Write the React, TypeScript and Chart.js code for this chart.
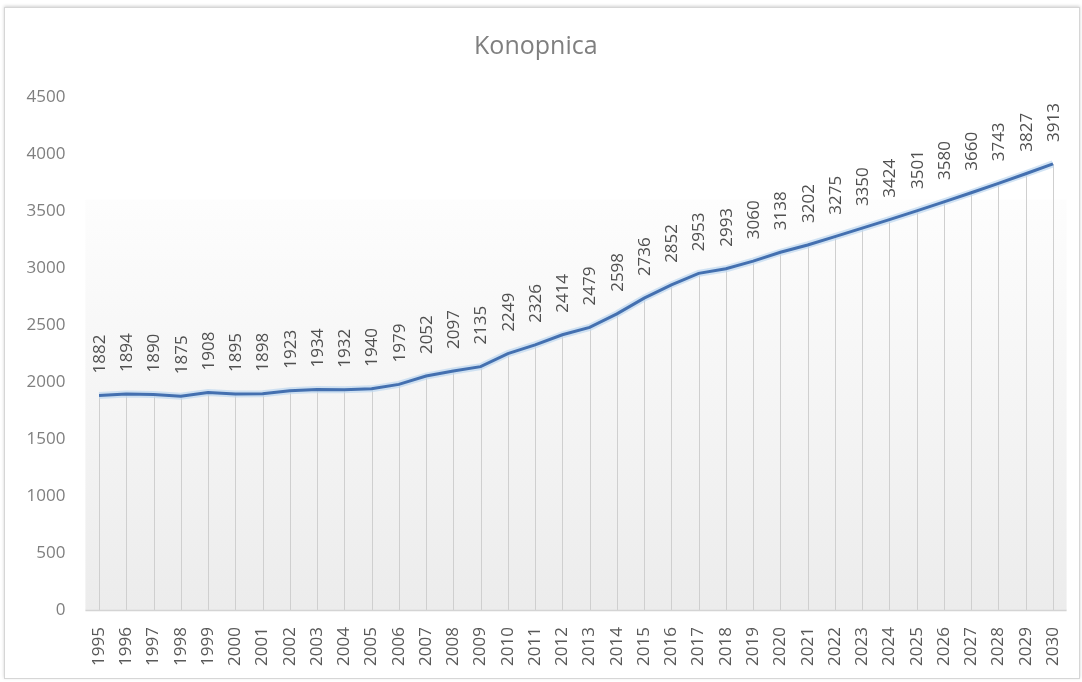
import React, { useEffect, useRef } from "react";
import { Chart, registerables } from "chart.js";

Chart.register(...registerables);

const years: string[] = [
  "1995", "1996", "1997", "1998", "1999", "2000", "2001", "2002", "2003",
  "2004", "2005", "2006", "2007", "2008", "2009", "2010", "2011", "2012",
  "2013", "2014", "2015", "2016", "2017", "2018", "2019", "2020", "2021",
  "2022", "2023", "2024", "2025", "2026", "2027", "2028", "2029", "2030",
];

const population: number[] = [
  1882, 1894, 1890, 1875, 1908, 1895, 1898, 1923, 1934, 1932, 1940, 1979,
  2052, 2097, 2135, 2249, 2326, 2414, 2479, 2598, 2736, 2852, 2953, 2993,
  3060, 3138, 3202, 3275, 3350, 3424, 3501, 3580, 3660, 3743, 3827, 3913,
];

const titleText = "Konopnica";
const yMin = 0;
const yMax = 4500;
const yStep = 500;

const W = 1074;
const H = 670;
const FONT = "'Open Sans', 'Liberation Sans', sans-serif";

const decorPlugin = {
  id: "decor",
  beforeDatasetsDraw(chart: any) {
    const { ctx, chartArea } = chart;
    const { left, right, top, bottom } = chartArea;
    ctx.save();
    const g = ctx.createLinearGradient(0, top, 0, bottom);
    g.addColorStop(0, "rgba(255,255,255,1)");
    g.addColorStop(0.2, "rgba(253,253,253,1)");
    g.addColorStop(1, "rgba(236,236,236,1)");
    ctx.fillStyle = g;
    ctx.fillRect(left, top + (bottom - top) * 0.2, right - left, (bottom - top) * 0.8);
    // drop lines
    const meta = chart.getDatasetMeta(0);
    ctx.strokeStyle = "#cfcfcf";
    ctx.lineWidth = 1;
    meta.data.forEach((pt: any) => {
      const x = Math.round(pt.x) + 0.5;
      ctx.beginPath();
      ctx.moveTo(x, pt.y);
      ctx.lineTo(x, bottom);
      ctx.stroke();
    });
    // axis line
    ctx.strokeStyle = "#d4d4d4";
    ctx.lineWidth = 1.5;
    ctx.beginPath();
    ctx.moveTo(left, bottom + 0.5);
    ctx.lineTo(right, bottom + 0.5);
    ctx.stroke();
    ctx.restore();
  },
  afterDatasetsDraw(chart: any) {
    const { ctx } = chart;
    const meta = chart.getDatasetMeta(0);
    const data = chart.data.datasets[0].data as number[];
    ctx.save();
    ctx.font = `17px ${FONT}`;
    ctx.fillStyle = "#505050";
    ctx.textAlign = "left";
    ctx.textBaseline = "middle";
    meta.data.forEach((pt: any, i: number) => {
      ctx.save();
      ctx.translate(pt.x, pt.y - 22);
      ctx.rotate(-Math.PI / 2);
      ctx.fillText(String(data[i]), 0, 1);
      ctx.restore();
    });
    ctx.restore();
  },
};

export default function App() {
  const ref = useRef<HTMLCanvasElement | null>(null);

  useEffect(() => {
    if (!ref.current) return;
    const chart = new Chart(ref.current, {
      type: "line",
      data: {
        labels: years,
        datasets: [
          {
            label: titleText,
            data: population,
            borderColor: "#4470b0",
            borderWidth: 3,
            pointRadius: 0,
            tension: 0,
            fill: false,
          },
          {
            label: "halo",
            data: population,
            borderColor: "rgba(190,215,240,0.7)",
            borderWidth: 7,
            pointRadius: 0,
            tension: 0,
            fill: false,
          },
        ],
      },
      options: {
        animation: false,
        responsive: false,
        events: [],
        layout: { padding: { left: 0, right: 12.4, top: 0, bottom: 0 } },
        plugins: {
          legend: { display: false },
          tooltip: { enabled: false },
          title: {
            display: true,
            text: titleText,
            color: "#7f7f7f",
            font: { family: FONT, size: 25, weight: "normal" },
            padding: { top: 24, bottom: 35 },
          },
        },
        scales: {
          x: {
            type: "category",
            offset: true,
            grid: { display: false, drawTicks: false },
            border: { display: false },
            ticks: {
              autoSkip: false,
              minRotation: 90,
              maxRotation: 90,
              padding: 17,
              color: "#595959",
              font: { family: FONT, size: 17 },
            },
            afterFit(scale: any) {
              scale.height = 68;
              scale.paddingLeft = 0;
              scale.paddingRight = 0;
            },
          },
          y: {
            min: yMin,
            max: yMax,
            grid: { display: false, drawTicks: false },
            border: { display: false },
            ticks: {
              stepSize: yStep,
              padding: 20,
              color: "#7f7f7f",
              font: { family: FONT, size: 17 },
              callback: (v: any) => String(v),
            },
            afterFit(scale: any) {
              scale.width = 80.4;
            },
          },
        },
      },
      plugins: [decorPlugin],
    });
    return () => chart.destroy();
  }, []);

  return (
    <div
      style={{
        position: "absolute",
        left: 4,
        top: 7,
        width: W,
        height: H,
        border: "1px solid #d6d6d6",
        boxShadow: "0 -1px 3px rgba(0,0,0,0.18)",
        background: "#ffffff",
      }}
    >
      <canvas ref={ref} width={W} height={H} style={{ display: "block", width: W, height: H }} />
    </div>
  );
}
